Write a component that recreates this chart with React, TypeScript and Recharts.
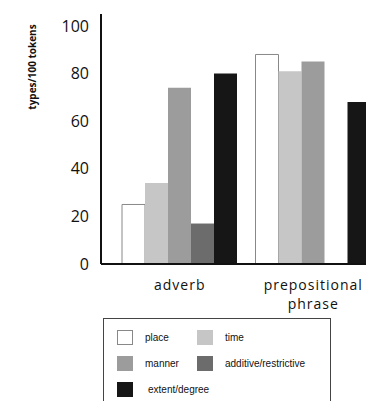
import { Bar, BarChart, XAxis, YAxis } from 'recharts';

const categories = ['adverb', 'prepositional phrase'];
const place = [25, 88];
const time = [34, 81];
const manner = [74, 85];
const additive = [17, 0];
const extent = [80, 68];
const yTicks = [0, 20, 40, 60, 80, 100];

const seriesNames = ['place', 'time', 'manner', 'additive/restrictive', 'extent/degree'];
const seriesKeys = ['place', 'time', 'manner', 'additive', 'extent'];
const seriesColors = ['#ffffff', '#c6c6c6', '#9c9c9c', '#6c6c6c', '#161616'];

const data = categories.map((name, i) => ({
  name,
  place: place[i],
  time: time[i],
  manner: manner[i],
  additive: additive[i],
  extent: extent[i],
}));

const font = '"Open Sans", sans-serif';

function CategoryTick({ x, y, payload }: any) {
  const words = String(payload.value).split(' ');
  return (
    <g>
      {words.map((w, i) => (
        <text
          key={w}
          x={x}
          y={y + 18 + i * 19}
          textAnchor="middle"
          fill="#111"
          fontFamily={font}
          fontSize={14}
          letterSpacing={1}
        >
          {w}
        </text>
      ))}
    </g>
  );
}

function YTitle({ viewBox }: any) {
  const cx = viewBox.x + 32;
  const cy = 67;
  return (
    <text
      x={cx}
      y={cy}
      transform={`rotate(-90 ${cx} ${cy})`}
      textAnchor="middle"
      dominantBaseline="central"
      fontFamily={font}
      fontSize={10}
      fontWeight={700}
      fill="#111"
    >
      types/100 tokens
    </text>
  );
}

function LegendBox() {
  const rows = [[0, 1], [2, 3], [4]];
  return (
    <div
      style={{
        position: 'absolute',
        left: 103,
        top: 318,
        width: 226,
        height: 100,
        border: '1px solid #444',
        background: '#fff',
        fontFamily: '"Liberation Sans", sans-serif',
        fontSize: 10,
        color: '#111',
      }}
    >
      {rows.map((row, r) => (
        <div key={r} style={{ position: 'absolute', top: 11 + r * 26, left: 13, display: 'flex' }}>
          {row.map((idx) => (
            <div key={idx} style={{ display: 'flex', alignItems: 'center', width: 80, flexShrink: 0 }}>
              <span
                style={{
                  display: 'inline-block',
                  flexShrink: 0,
                  width: 16,
                  height: 15,
                  background: seriesColors[idx],
                  border: idx === 0 ? '1px solid #888' : 'none',
                  boxSizing: 'border-box',
                  marginRight: idx === 4 ? 15 : 12,
                }}
              />
              <span style={{ whiteSpace: 'nowrap' }}>{seriesNames[idx]}</span>
            </div>
          ))}
        </div>
      ))}
    </div>
  );
}

export default function App() {
  return (
    <div
      style={{
        position: 'absolute',
        left: 0,
        top: 0,
        width: 366,
        height: 401,
        overflow: 'hidden',
        background: '#fff',
      }}
    >
      <BarChart
        width={380}
        height={330}
        data={data}
        margin={{ top: 14, right: 0, left: 0, bottom: 36 }}
        barCategoryGap={9}
        barGap={0}
      >
        <XAxis
          dataKey="name"
          padding={{ left: 12, right: 0 }}
          axisLine={{ stroke: '#111', strokeWidth: 2 }}
          tickLine={false}
          tick={<CategoryTick />}
          interval={0}
          height={30}
        />
        <YAxis
          width={101}
          domain={[0, 105]}
          ticks={yTicks}
          allowDataOverflow
          axisLine={{ stroke: '#111', strokeWidth: 2 }}
          tickLine={false}
          tickMargin={6}
          tick={{ fill: '#111', fontSize: 16, fontFamily: font }}
          label={<YTitle />}
        />
        {seriesKeys.map((k, i) => (
          <Bar
            key={k}
            dataKey={k}
            name={seriesNames[i]}
            fill={seriesColors[i]}
            stroke={i === 0 ? '#888' : 'none'}
            strokeWidth={1}
            isAnimationActive={false}
          />
        ))}
      </BarChart>
      <LegendBox />
    </div>
  );
}
